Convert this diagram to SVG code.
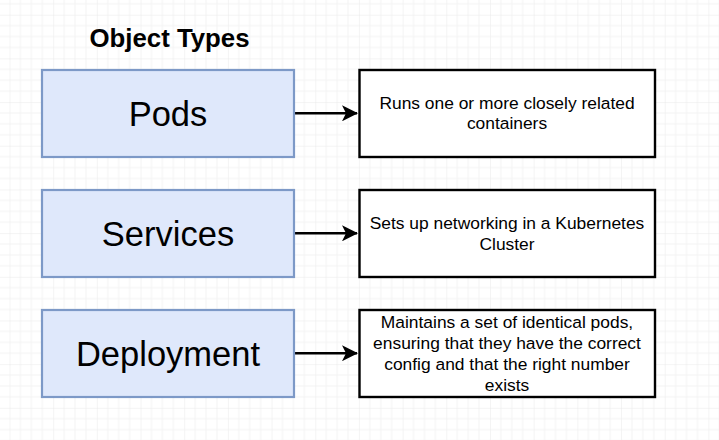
<svg xmlns="http://www.w3.org/2000/svg" width="719" height="440" viewBox="0 0 719 440">
<style>
.obj{fill:#dfe8fb;stroke:#7d99c7;stroke-width:2.2}
.desc{fill:#ffffff;stroke:#000000;stroke-width:2.4}
.big{font-family:"Liberation Sans",Arial,Helvetica,sans-serif;font-size:34.5px;fill:#000;text-anchor:middle}
.small{font-family:"Liberation Sans",Arial,Helvetica,sans-serif;font-size:17.4px;fill:#000;text-anchor:middle}
.title{font-family:"Liberation Sans",Arial,Helvetica,sans-serif;font-size:25.8px;font-weight:bold;fill:#000;text-anchor:middle}
.conn{stroke:#000;stroke-width:2.6;fill:none}
</style>
<defs>
<pattern id="grid" patternUnits="userSpaceOnUse" x="9.5" y="14.7" width="43.68" height="43.68">
<path d="M10.92 0V43.68M21.84 0V43.68M32.76 0V43.68M0 10.92H43.68M0 21.84H43.68M0 32.76H43.68" stroke="#f4f4f4" stroke-width="1" fill="none"/>
<path d="M0 0V43.68M0 0H43.68" stroke="#e9e9e9" stroke-width="1" fill="none"/>
</pattern>
<marker id="arrow" viewBox="0 0 16 16" refX="15" refY="8" markerWidth="16" markerHeight="16" markerUnits="userSpaceOnUse" orient="auto">
<path d="M0 0L16 8L0 16L4 8Z" fill="#000"/>
</marker>
</defs>
<rect width="719" height="440" fill="#ffffff"/>
<rect width="719" height="440" fill="url(#grid)"/>
<text class="title" x="169.5" y="46.5">Object Types</text>
<g id="connectors">
<path class="conn" d="M295 113.3H357" marker-end="url(#arrow)"/>
<path class="conn" d="M295 233.3H357" marker-end="url(#arrow)"/>
<path class="conn" d="M295 353.2H357" marker-end="url(#arrow)"/>
</g>
<g id="pods">
<rect class="obj" x="42" y="70" width="252" height="87"/>
<text class="big" x="168" y="126">Pods</text>
</g>
<g id="services">
<rect class="obj" x="42" y="190" width="252" height="87"/>
<text class="big" x="168" y="245.5">Services</text>
</g>
<g id="deployment">
<rect class="obj" x="42" y="310" width="252" height="87"/>
<text class="big" x="168" y="365.5">Deployment</text>
</g>
<g id="pods-desc">
<rect class="desc" x="359.5" y="70" width="295.5" height="87"/>
<text class="small" x="507" y="108.5">Runs one or more closely related</text>
<text class="small" x="507" y="129">containers</text>
</g>
<g id="services-desc">
<rect class="desc" x="359.5" y="190" width="295.5" height="87"/>
<text class="small" x="507" y="229.3">Sets up networking in a Kubernetes</text>
<text class="small" x="507" y="250">Cluster</text>
</g>
<g id="deployment-desc">
<rect class="desc" x="359.5" y="310" width="295.5" height="87"/>
<text class="small" x="507" y="328.3">Maintains a set of identical pods,</text>
<text class="small" x="507" y="349.1">ensuring that they have the correct</text>
<text class="small" x="507" y="369.9">config and that the right number</text>
<text class="small" x="507" y="390.5">exists</text>
</g>
</svg>
